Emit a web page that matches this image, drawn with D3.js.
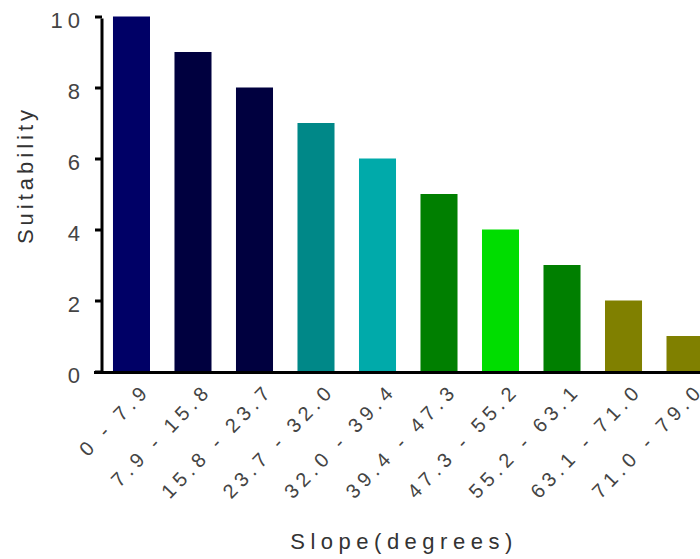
<!DOCTYPE html>
<html><head><meta charset="utf-8">
<script src="https://cdn.jsdelivr.net/npm/d3@7"></script>
<style>body{margin:0;background:#fff}svg{display:block}</style>
</head><body><svg id="c" width="700" height="559"></svg>
<script>
const categories = ["0 - 7.9","7.9 - 15.8","15.8 - 23.7","23.7 - 32.0","32.0 - 39.4","39.4 - 47.3","47.3 - 55.2","55.2 - 63.1","63.1 - 71.0","71.0 - 79.0"];
const values = [10,9,8,7,6,5,4,3,2,1];
const colors = ["#000066","#00003f","#00003f","#008888","#00aaaa","#007f00","#00dd00","#007f00","#808000","#808000"];
const yTicks = [0,2,4,6,8,10];
const xTitle = "Slope(degrees)";
const yTitle = "Suitability";

const svg = d3.select("#c");
const font = "'Liberation Sans', Arial, sans-serif";
const x = d3.scaleBand().domain(categories).range([100, 716.5]).paddingInner(0.398).paddingOuter(0.211);
const y = d3.scaleLinear().domain([0,10]).range([371.5, 16.5]);

svg.selectAll("rect.bar").data(categories).enter().append("rect")
  .attr("x", d => x(d)).attr("width", x.bandwidth())
  .attr("y", (d,i) => y(values[i])).attr("height", (d,i) => y(0) - y(values[i]))
  .attr("fill", (d,i) => colors[i]);

// y axis
const ya = svg.append("g").attr("transform","translate(102,0)")
  .call(d3.axisLeft(y).tickValues(yTicks).tickSize(7).tickPadding(10).tickFormat(d3.format("d")));
ya.select(".domain").attr("stroke","#000").attr("stroke-width",3).attr("d","M0,"+(y(10)+2)+"V"+y(0));
ya.selectAll(".tick line").attr("stroke","#000").attr("stroke-width",3);
ya.selectAll(".tick text").attr("font-family",font).attr("font-size",22).attr("fill","#444")
  .attr("letter-spacing","5px").attr("dy","0.5em");

// x axis
const xa = svg.append("g").attr("transform","translate(0,"+(y(0)+1)+")")
  .call(d3.axisBottom(x).tickSize(0).tickPadding(0));
xa.select(".domain").attr("stroke","#000").attr("stroke-width",3).attr("d","M94,0H700");
xa.selectAll(".tick text").attr("font-family",font).attr("font-size",20).attr("fill","#444")
  .attr("letter-spacing","5px").attr("text-anchor","end")
  .attr("transform","translate(20,19) rotate(-46)").attr("dy","0");

svg.append("text").attr("x",404).attr("y",549).attr("text-anchor","middle")
  .attr("font-family",font).attr("font-size",22).attr("fill","#333").attr("letter-spacing","5.5px").text(xTitle);
svg.append("text").attr("transform","translate(33,175) rotate(-90)").attr("text-anchor","middle")
  .attr("font-family",font).attr("font-size",22).attr("fill","#333").attr("letter-spacing","4px").text(yTitle);
</script></body></html>
